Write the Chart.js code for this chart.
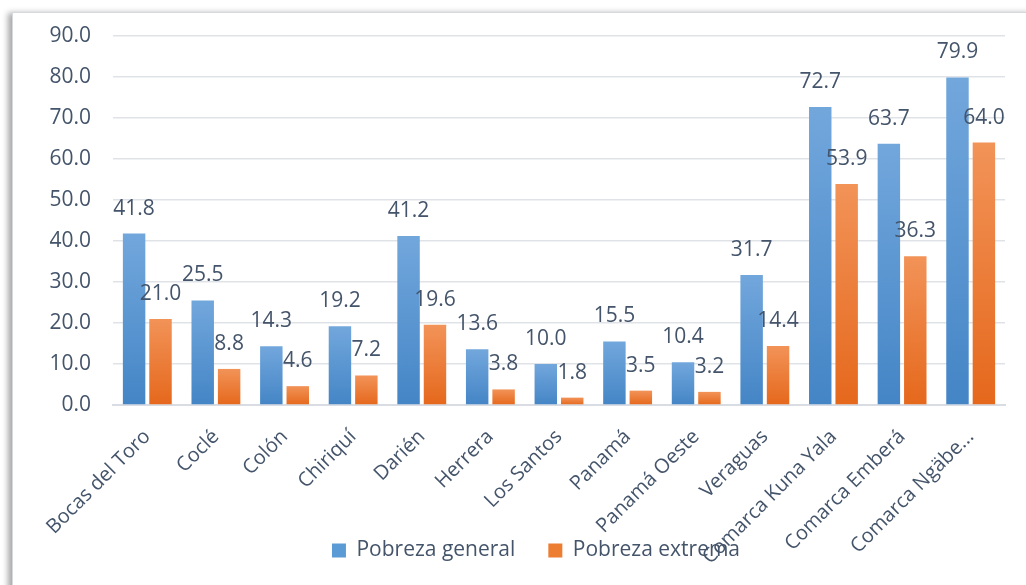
<!DOCTYPE html>
<html>
<head>
<meta charset="utf-8">
<script src="https://cdn.jsdelivr.net/npm/chart.js@4"></script>
<style>
  body { margin: 0; background: #ffffff; }
  #frame {
    position: absolute; left: 12px; top: 12px; width: 1020px; height: 580px;
    border: 1px solid #d6d9de; background: #fff;
    box-shadow: -4px 1px 6px rgba(0,0,0,0.35);
  }
  #wrap { position: absolute; left: 0; top: 0; width: 1012px; height: 571px; }
</style>
</head>
<body>
<div id="frame"><div id="wrap"><canvas id="chart"></canvas></div></div>
<script>
const categories = ["Bocas del Toro", "Coclé", "Colón", "Chiriquí", "Darién", "Herrera", "Los Santos",
  "Panamá", "Panamá Oeste", "Veraguas", "Comarca Kuna Yala", "Comarca Emberá", "Comarca Ngäbe Buglé"];
const pobrezaGeneral = [41.8, 25.5, 14.3, 19.2, 41.2, 13.6, 10.0, 15.5, 10.4, 31.7, 72.7, 63.7, 79.9];
const pobrezaExtrema = [21.0, 8.8, 4.6, 7.2, 19.6, 3.8, 1.8, 3.5, 3.2, 14.4, 53.9, 36.3, 64.0];
const seriesNames = ["Pobreza general", "Pobreza extrema"];

const textColor = "#44546a";
const fontFamily = "'Open Sans', sans-serif";
const fontSize = 21;

// vertical gradient per bar, light on top, darker at base
function barGradient(topColor, bottomColor) {
  return function(ctx) {
    const chart = ctx.chart;
    if (ctx.type !== "data" || !chart.scales.y) return bottomColor;
    const y = chart.scales.y;
    const top = y.getPixelForValue(ctx.raw);
    const base = y.getPixelForValue(0);
    if (!isFinite(top) || !isFinite(base) || base - top < 1) return bottomColor;
    const g = chart.ctx.createLinearGradient(0, top, 0, base);
    g.addColorStop(0, topColor);
    g.addColorStop(1, bottomColor);
    return g;
  };
}

const valueLabels = {
  id: "valueLabels",
  afterDatasetsDraw(chart) {
    const c = chart.ctx;
    c.save();
    c.font = fontSize + "px " + fontFamily;
    c.fillStyle = textColor;
    c.textAlign = "center";
    c.textBaseline = "middle";
    chart.data.datasets.forEach((ds, i) => {
      chart.getDatasetMeta(i).data.forEach((bar, j) => {
        c.fillText(ds.data[j].toFixed(1), bar.x, bar.y - 25);
      });
    });
    c.restore();
  }
};

// legend overlaps the rotated labels like the original, so move it up a bit
// and let the x labels draw past their box
const legendPlace = {
  id: "legendPlace",
  afterLayout(chart) {
    const lg = chart.legend;
    const h = lg.bottom - lg.top;
    lg.top = 494;
    lg.bottom = lg.top + h;
    lg.left += 27;
    lg.right += 27;
    chart.scales.x.bottom = chart.height;
  }
};

new Chart(document.getElementById("chart"), {
  type: "bar",
  data: {
    labels: categories,
    datasets: [
      {
        label: seriesNames[0],
        data: pobrezaGeneral,
        backgroundColor: barGradient("#72a7dc", "#4485c6")
      },
      {
        label: seriesNames[1],
        data: pobrezaExtrema,
        backgroundColor: barGradient("#f29358", "#e5681c")
      }
    ]
  },
  plugins: [valueLabels, legendPlace],
  options: {
    responsive: true,
    maintainAspectRatio: false,
    animation: false,
    categoryPercentage: 0.77,
    barPercentage: 0.85,
    layout: { padding: { top: 23, right: 20, bottom: 0, left: 0 } },
    plugins: {
      tooltip: { enabled: false },
      legend: {
        position: "bottom",
        labels: {
          color: textColor,
          font: { family: fontFamily, size: fontSize },
          boxWidth: 14,
          boxHeight: 14,
          padding: 33,
          generateLabels(chart) {
            return chart.data.datasets.map((ds, i) => ({
              text: ds.label,
              fillStyle: i === 0 ? "#5b9bd5" : "#ed7d31",
              strokeStyle: "rgba(0,0,0,0)",
              lineWidth: 0,
              fontColor: textColor,
              datasetIndex: i
            }));
          }
        }
      }
    },
    scales: {
      x: {
        grid: { display: false, drawTicks: false },
        border: { color: "#d9dde3", width: 2 },
        ticks: {
          color: textColor,
          font: { family: fontFamily, size: 20 },
          maxRotation: 45,
          minRotation: 45,
          autoSkip: false,
          padding: 20,
          callback: function(v) {
            const s = this.getLabelForValue(v);
            return s.length > 17 ? s.slice(0, 13) + "..." : s;
          }
        },
        afterFit(scale) { scale.height = 115; }
      },
      y: {
        min: 0,
        max: 90,
        grid: { color: "#dfe3e8", lineWidth: 1.5, drawTicks: true, tickLength: 20, tickColor: "rgba(0,0,0,0)" },
        border: { display: false },
        ticks: {
          stepSize: 10,
          color: textColor,
          font: { family: fontFamily, size: fontSize },
          padding: 2,
          callback: v => v.toFixed(1)
        },
        afterFit(scale) { scale.width = 100; }
      }
    }
  }
});
</script>
</body>
</html>
